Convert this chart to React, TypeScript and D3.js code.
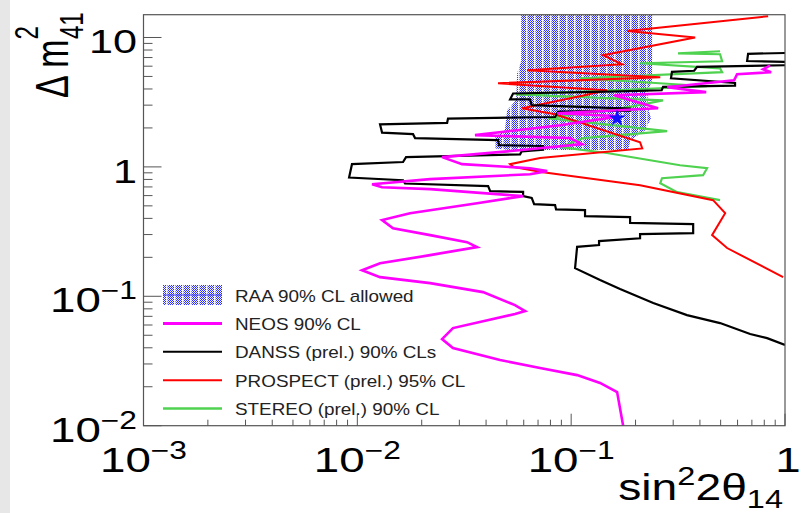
import { scaleLog, line, symbol, symbolStar } from 'd3';

// sin^2(2θ14), Δm²41 pairs
const raaRegion: [number, number][] = [
  [0.0584, 15], [0.239, 15], [0.239, 4.67], [0.229, 3.91], [0.229, 2.84], [0.236, 2.38],
  [0.222, 1.92], [0.189, 1.61], [0.185, 1.35], [0.0518, 1.35], [0.0441, 1.39], [0.0441, 1.70],
  [0.049, 1.92], [0.0502, 2.74], [0.0553, 3.27], [0.0559, 5.29], [0.0584, 6.55],
];

const raaBestFit: [number, number] = [0.164, 2.38];

const neosContour: [number, number][] = [
  [0.852, 6.10], [0.790, 5.68], [0.861, 5.39], [0.597, 5.20], [0.578, 4.67], [0.281, 4.13],
  [0.428, 3.78], [0.159, 3.58], [0.255, 2.84], [0.0859, 2.60], [0.169, 2.46], [0.0888, 2.10],
  [0.0355, 1.76], [0.0988, 1.67], [0.1124, 1.50], [0.0589, 1.35], [0.0249, 1.19], [0.0309, 1.05],
  [0.0642, 0.977], [0.0772, 0.927], [0.0642, 0.878], [0.0219, 0.804], [0.01172, 0.735],
  [0.01305, 0.697], [0.0219, 0.673], [0.0596, 0.594], [0.0363, 0.524], [0.01764, 0.439],
  [0.01305, 0.388], [0.01469, 0.336], [0.0219, 0.297], [0.0326, 0.262], [0.0363, 0.240],
  [0.0219, 0.208], [0.01277, 0.180], [0.01052, 0.159], [0.01277, 0.1407], [0.0219, 0.1264],
  [0.0387, 0.1077], [0.0546, 0.0855], [0.0609, 0.0769], [0.0546, 0.0729], [0.028, 0.0568],
  [0.0249, 0.0467], [0.028, 0.0398], [0.0465, 0.0322], [0.0715, 0.0279], [0.1066, 0.0246],
  [0.1365, 0.0214], [0.164, 0.0182], [0.175, 0.01],
];

const dansIsland: [number, number][] = [
  [1.0, 7.59], [0.672, 7.48], [0.665, 6.58], [1.0, 6.49],
];

const dansContour: [number, number][] = [
  [1.0, 6.10], [0.388, 5.92], [0.376, 5.53], [0.296, 5.42], [0.293, 4.84], [0.584, 4.45],
  [0.584, 4.24], [0.269, 4.16], [0.265, 3.91], [0.1693, 3.84], [0.0535, 3.69], [0.0518, 3.32],
  [0.0642, 3.32], [0.0654, 3.0], [0.1886, 2.82], [0.1886, 2.72], [0.0869, 2.67], [0.0841, 2.43],
  [0.02655, 2.36], [0.0263, 2.19], [0.01277, 2.13], [0.01305, 1.84], [0.01822, 1.79],
  [0.01862, 1.67], [0.0455, 1.61], [0.046, 1.47], [0.0739, 1.45], [0.0739, 1.36], [0.0587, 1.32],
  [0.0577, 1.25], [0.0169, 1.19], [0.01636, 1.09], [0.00944, 1.05], [0.00915, 0.828],
  [0.01636, 0.789], [0.01671, 0.744], [0.0409, 0.71], [0.0418, 0.649], [0.0596, 0.641],
  [0.0596, 0.594], [0.0654, 0.576], [0.0671, 0.515], [0.0841, 0.506], [0.085, 0.469],
  [0.1161, 0.463], [0.1161, 0.416], [0.1886, 0.409], [0.1886, 0.369], [0.372, 0.361],
  [0.372, 0.308], [0.21, 0.302], [0.21, 0.281], [0.135, 0.267], [0.135, 0.249], [0.1066, 0.241],
  [0.1043, 0.165], [0.1365, 0.1334], [0.1693, 0.1137], [0.242, 0.0886], [0.348, 0.0716],
  [0.497, 0.0621], [0.687, 0.0511], [0.825, 0.0475], [1.0, 0.042],
];

const prospectContour: [number, number][] = [
  [0.834, 14.6], [0.183, 11.2], [0.38, 10.0], [0.141, 7.29], [0.173, 6.21], [0.0622, 5.58],
  [0.261, 4.93], [0.0455, 4.43], [0.147, 3.91], [0.11, 3.52], [0.0589, 2.84], [0.0841, 2.55],
  [0.21, 1.55], [0.215, 1.39], [0.0715, 1.17], [0.0518, 1.05], [0.054, 0.995], [0.0739, 0.91],
  [0.21, 0.722], [0.461, 0.553], [0.525, 0.439], [0.456, 0.297], [0.536, 0.236], [0.98, 0.1407],
];

const stereoContour: [number, number][] = [
  [0.497, 7.83], [0.316, 7.55], [0.497, 7.42], [0.508, 6.55], [0.21, 6.32], [0.497, 5.78],
  [0.508, 5.39], [0.11, 4.84], [0.432, 4.2], [0.0552, 3.64], [0.269, 3.27], [0.195, 2.94],
  [0.078, 2.38], [0.281, 1.89], [0.114, 1.67], [0.0888, 1.42], [0.147, 1.28], [0.323, 1.03],
  [0.432, 0.977], [0.414, 0.863], [0.266, 0.818], [0.261, 0.748], [0.313, 0.638], [0.497, 0.553],
];

const xTickValues = [0.001, 0.01, 0.1, 1];
const xTickBases = ['10', '10', '10', '1'];
const xTickExps = ['\u22123', '\u22122', '\u22121', ''];
const yTickValues = [0.01, 0.1, 1, 10];
const yTickBases = ['10', '10', '1', '10'];
const yTickExps = ['\u22122', '\u22121', '', ''];

const legendLabels = [
  'RAA 90% CL allowed',
  'NEOS 90% CL',
  'DANSS (prel.) 90% CLs',
  'PROSPECT (prel.) 95% CL',
  'STEREO (prel.) 90% CL',
];
const legendColors = ['#3a3aff', '#ff00ff', '#000000', '#ff0000', '#4fd24f'];
const legendWidths = [1, 3, 2, 2, 2.5];

const FONT = '"Liberation Sans", Arial, sans-serif';
const W = 805;
const H = 513;
const plotLeft = 143.5;
const plotRight = 785;
const plotTop = 14.7;
const plotBottom = 425.7;

const x = scaleLog().domain([1e-3, 1]).range([plotLeft, plotRight]);
const y = scaleLog().domain([0.01, 15]).range([plotBottom, plotTop]);

const path = line<[number, number]>()
  .x((d) => x(d[0]))
  .y((d) => y(d[1]));

const isMajor = (v: number) => Math.abs(Math.log10(v) - Math.round(Math.log10(v))) < 1e-6;

// dotted fill with light vertical stripes, like the ROOT hatch
const hatchCells: { i: number; j: number; c: string }[] = [];
for (let i = 0; i < 8; i++) {
  for (let j = 0; j < 2; j++) {
    if (i === 6) continue;
    if ((i + j) % 2 === 0) hatchCells.push({ i, j, c: i === 7 ? '#8c8cff' : '#2e2eff' });
  }
}

const Stretched = (props: { x: number; y: number; anchor: string; size: number; sx?: number; children: any }) => (
  <g transform={`translate(${props.x},${props.y}) scale(${props.sx ?? 1.18},1)`}>
    <text textAnchor={props.anchor} fontSize={props.size} fontFamily={FONT} fill="#000">
      {props.children}
    </text>
  </g>
);

export default function App() {
  const star = symbol().type(symbolStar).size(90)();
  const legendRowY = (i: number) => 295 + i * 28.4;

  return (
    <div style={{ position: 'absolute', left: 0, top: 0 }}>
      <svg width={W} height={H} style={{ display: 'block' }}>
        <defs>
          <pattern id="raaHatch" width={8} height={2} patternUnits="userSpaceOnUse">
            <rect width={8} height={2} fill="#f4f4ff" />
            {hatchCells.map((c, k) => (
              <rect key={k} x={c.i} y={c.j} width={1} height={1} fill={c.c} />
            ))}
          </pattern>
          <clipPath id="plotClip">
            <rect x={plotLeft} y={plotTop} width={plotRight - plotLeft} height={plotBottom - plotTop} />
          </clipPath>
        </defs>

        <rect x={0} y={0} width={W} height={H} fill="#ffffff" />
        <rect x={0} y={0} width={10} height={H} fill="#e7e7e7" />

        <g clipPath="url(#plotClip)">
          <path d={path([...raaRegion, raaRegion[0]]) ?? ''} fill="url(#raaHatch)" stroke="none" />
          <path d={path(stereoContour) ?? ''} fill="none" stroke="#4fd24f" strokeWidth={2.2} />
          <path d={path(prospectContour) ?? ''} fill="none" stroke="#ff0000" strokeWidth={2} />
          <path d={path(dansIsland) ?? ''} fill="none" stroke="#000" strokeWidth={2.2} />
          <path d={path(dansContour) ?? ''} fill="none" stroke="#000" strokeWidth={2.2} />
          <path d={path(neosContour) ?? ''} fill="none" stroke="#ff00ff" strokeWidth={2.6} />
          <path
            d={star ?? ''}
            transform={`translate(${x(raaBestFit[0])},${y(raaBestFit[1])})`}
            fill="#1010ff"
          />
        </g>

        {/* frame */}
        <rect
          x={plotLeft}
          y={plotTop}
          width={plotRight - plotLeft}
          height={plotBottom - plotTop}
          fill="none"
          stroke="#555"
          strokeWidth={1.2}
        />

        {/* ticks */}
        {x.ticks().map((v, i) => (
          <line
            key={'xt' + i}
            x1={x(v)}
            x2={x(v)}
            y1={plotBottom}
            y2={plotBottom - (isMajor(v) ? 12 : 6)}
            stroke="#555"
            strokeWidth={1}
          />
        ))}
        {y.ticks().map((v, i) => (
          <line
            key={'yt' + i}
            x1={plotLeft}
            x2={plotLeft + (isMajor(v) ? 18 : 9)}
            y1={y(v)}
            y2={y(v)}
            stroke="#555"
            strokeWidth={1}
          />
        ))}

        {/* tick labels */}
        {xTickValues.map((v, i) => (
          <Stretched key={'xl' + i} x={x(v) + (i === 3 ? 3 : 0)} y={472} anchor="middle" size={36} sx={1.27}>
            {xTickBases[i]}
            {xTickExps[i] && (
              <tspan fontSize={25} dy={-13}>
                {xTickExps[i]}
              </tspan>
            )}
          </Stretched>
        ))}
        {yTickValues.map((v, i) => (
          <Stretched key={'yl' + i} x={137} y={y(v) + 16} anchor="end" size={yTickExps[i] ? 36 : 34} sx={1.27}>
            {yTickBases[i]}
            {yTickExps[i] && (
              <tspan fontSize={25} dy={-13}>
                {yTickExps[i]}
              </tspan>
            )}
          </Stretched>
        ))}

        {/* axis titles */}
        <Stretched x={783} y={500} anchor="end" size={37} sx={1.25}>
          sin
          <tspan fontSize={26} dy={-15}>
            2
          </tspan>
          <tspan dy={15}>2θ</tspan>
          <tspan fontSize={26} dy={8}>
            14
          </tspan>
        </Stretched>
        <g transform="translate(68,98) rotate(-90) scale(1,1.35)">
          <text fontSize={34} fontFamily={FONT} fill="#000">
            Δ m
            <tspan fontSize={24} dy={-22}>
              2
            </tspan>
            <tspan fontSize={24} dx={-13} dy={33}>
              41
            </tspan>
          </text>
        </g>

        {/* legend */}
        {legendLabels.map((label, i) => (
          <g key={'lg' + i}>
            {i === 0 ? (
              <>
                <rect x={163} y={legendRowY(0) - 10} width={59} height={20} fill="url(#raaHatch)" />
                <line x1={163} x2={222} y1={legendRowY(0)} y2={legendRowY(0)} stroke={legendColors[0]} strokeWidth={legendWidths[0]} />
              </>
            ) : (
              <line
                x1={163}
                x2={222}
                y1={legendRowY(i)}
                y2={legendRowY(i)}
                stroke={legendColors[i]}
                strokeWidth={legendWidths[i]}
              />
            )}
            <Stretched x={235} y={legendRowY(i) + 6.5} anchor="start" size={16}>
              <tspan fill="#222">{label}</tspan>
            </Stretched>
          </g>
        ))}
      </svg>
    </div>
  );
}
